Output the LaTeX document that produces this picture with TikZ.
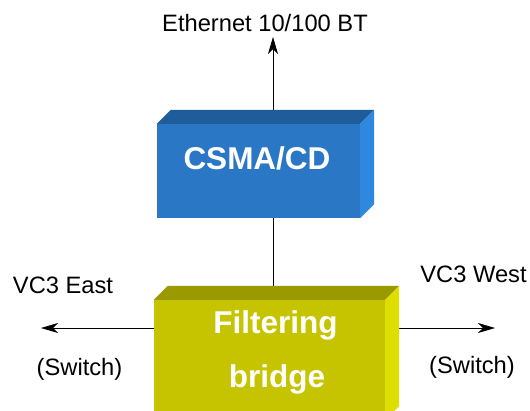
\documentclass[tikz,border=0pt]{standalone}
\usepackage{fontspec}
\setmainfont{Liberation Sans}
\usetikzlibrary{arrows.meta,calc}
\definecolor{csmafront}{HTML}{2A77C5}
\definecolor{csmatop}{HTML}{1F5C9A}
\definecolor{csmaside}{HTML}{2F88E0}
\definecolor{brfront}{HTML}{C6C400}
\definecolor{brtop}{HTML}{9A9900}
\definecolor{brside}{HTML}{DEDE00}
\tikzset{
  frontbox/.style={rectangle,draw=none,inner sep=0pt,minimum width=#1},
  plain/.style={font=\fontsize{23.7}{28}\selectfont,anchor=base,inner sep=0pt},
  boxtext/.style={font=\fontsize{31.5}{38}\selectfont\bfseries,text=white,anchor=base,inner sep=0pt},
  conn/.style={line width=0.9pt,black},
  arr/.style={conn,-{Stealth[length=17pt,width=10pt,inset=5pt]}}
}
\begin{document}
\begin{tikzpicture}[x=1pt,y=-1pt]
\clip (0,0) rectangle (530,410);
\fill[white] (0,0) rectangle (530,410);
% front faces
\node[frontbox=203pt,minimum height=94pt,fill=csmafront] (csma) at (258.5,171) {};
\node[frontbox=231pt,minimum height=120pt,fill=brfront] (bridge) at (269.5,360) {};
% connector coordinates
\coordinate (ethtip) at (273,37);
\coordinate (etip) at (41,328);
\coordinate (wtip) at (495,328);
% connectors
\draw[arr] ($(csma.north -| ethtip)+(0,-14)$) -- (ethtip);
\draw[conn] (csma.south -| ethtip) -- ($(bridge.north -| ethtip)+(0,-14)$);
\draw[arr] (bridge.west |- etip) -- (etip);
\draw[arr] ($(bridge.east |- wtip)+(14,0)$) -- (wtip);
% 3D faces
\fill[csmatop] (csma.north west) -- ++(14,-14) -- ($(csma.north east)+(14,-14)$) -- (csma.north east) -- cycle;
\fill[csmaside] (csma.north east) -- ++(14,-14) -- ($(csma.south east)+(14,-14)$) -- (csma.south east) -- cycle;
\fill[brtop] (bridge.north west) -- ++(14,-14) -- ($(bridge.north east)+(14,-14)$) -- (bridge.north east) -- cycle;
\fill[brside] (bridge.north east) -- ++(14,-14) -- ($(bridge.south east)+(14,-14)$) -- (bridge.south east) -- cycle;
% texts
\node[boxtext] (csmatext) at (257,169.5) {CSMA/CD};
\node[boxtext] (brtext1) at (275.5,333) {Filtering};
\node[boxtext] (brtext2) at (277,387) {bridge};
\node[plain] (eth) at (265,31) {Ethernet 10/100 BT};
\node[plain] (east) at (63,293) {VC3 East};
\node[plain] (eastsw) at (79.5,375) {(Switch)};
\node[plain] (west) at (473.5,282) {VC3 West};
\node[plain] (westsw) at (472,373) {(Switch)};
\end{tikzpicture}
\end{document}
